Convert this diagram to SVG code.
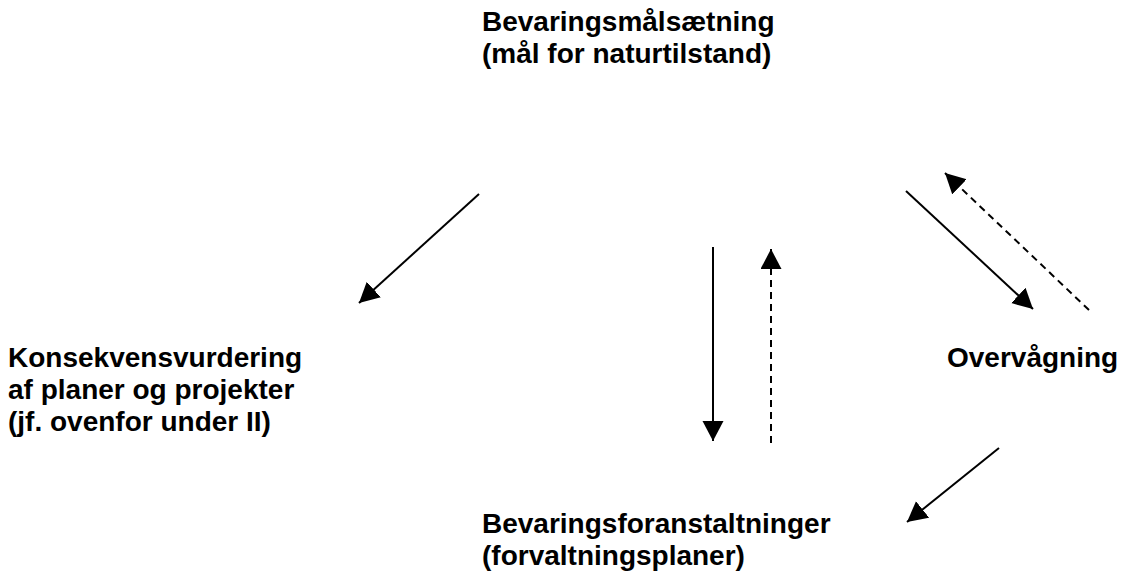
<svg xmlns="http://www.w3.org/2000/svg" width="1127" height="576" viewBox="0 0 1127 576">
<style>
text{font-family:"Liberation Sans",Arial,sans-serif;font-weight:bold;font-size:28px;fill:#000}
.c{stroke:#000;stroke-width:2;fill:none;marker-end:url(#ah)}
.d{stroke-dasharray:7 5}
</style>
<defs>
<marker id="ah" markerUnits="userSpaceOnUse" markerWidth="21" markerHeight="22" refX="20" refY="10.5" orient="auto">
<path d="M0,0 L20,10.5 L0,21 z" fill="#000"/>
</marker>
</defs>
<rect width="1127" height="576" fill="#fff"/>
<g id="node-goal"><text x="482" y="31">Bevaringsmålsætning</text><text x="482" y="63">(mål for naturtilstand)</text></g>
<g id="node-impact"><text x="8" y="367">Konsekvensvurdering</text><text x="8" y="399">af planer og projekter</text><text x="8" y="431">(jf. ovenfor under II)</text></g>
<g id="node-monitor"><text x="947" y="367">Overvågning</text></g>
<g id="node-measures"><text x="482" y="533">Bevaringsforanstaltninger</text><text x="482" y="565">(forvaltningsplaner)</text></g>
<g id="connectors">
<line class="c" x1="479" y1="194" x2="359" y2="303"/>
<line class="c" x1="713" y1="247" x2="713" y2="441"/>
<line class="c d" x1="771" y1="443" x2="771" y2="249"/>
<line class="c" x1="906" y1="191" x2="1033" y2="309"/>
<line class="c d" x1="1089" y1="310" x2="945" y2="173"/>
<line class="c" x1="999" y1="448" x2="907" y2="522"/>
</g>
</svg>
